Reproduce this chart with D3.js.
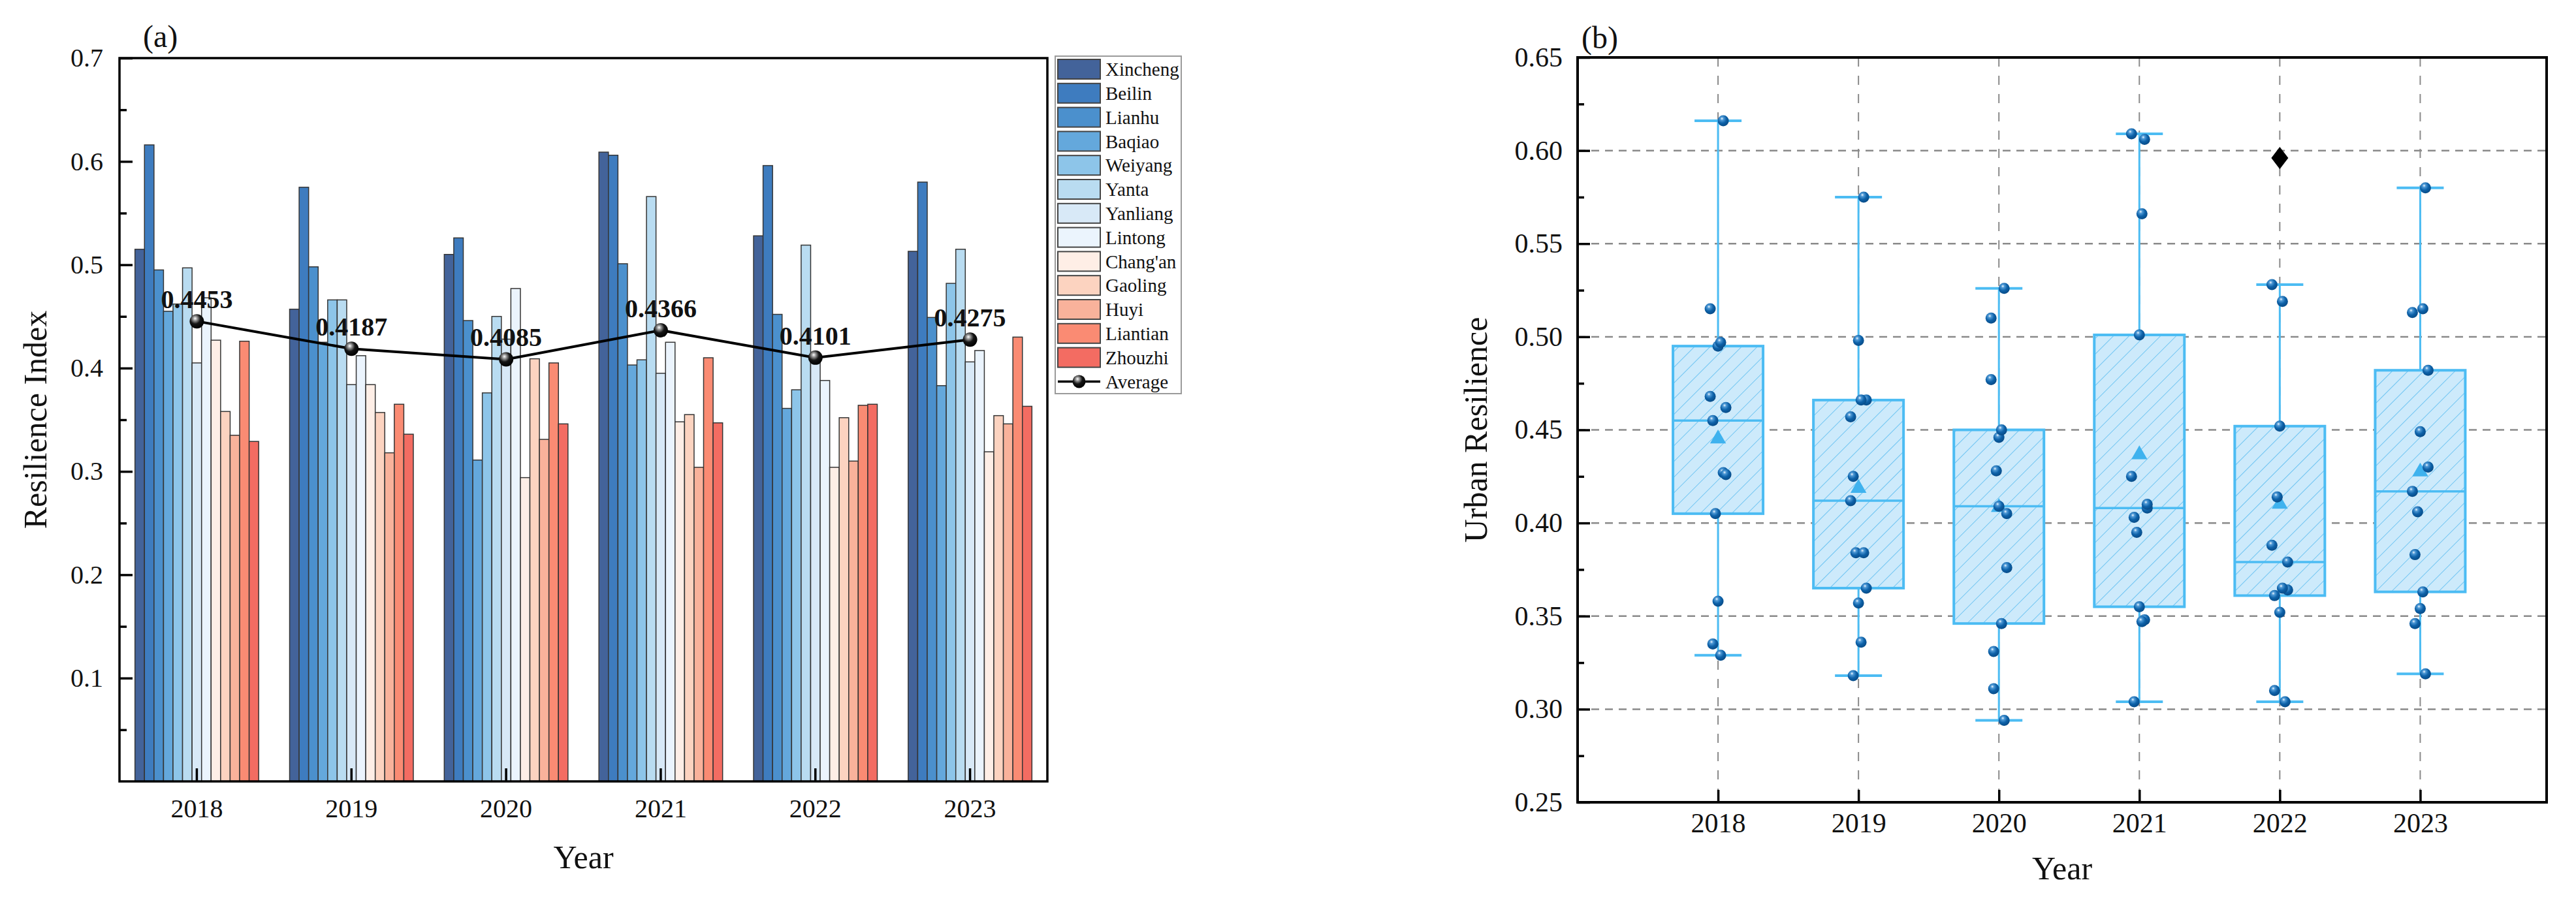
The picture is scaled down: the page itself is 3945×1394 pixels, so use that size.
<!DOCTYPE html>
<html>
<head>
<meta charset="utf-8">
<script src="https://cdn.jsdelivr.net/npm/d3@7/dist/d3.min.js"></script>
<style>
body { margin: 0; background: #fff; }
svg { display: block; }
text { font-family: 'Liberation Serif', 'Times New Roman', serif; fill: #111; }
</style>
</head>
<body>
<svg id="chart" width="3945" height="1394"></svg>
<script>

// years on the x axis
var years = ["2018", "2019", "2020", "2021", "2022", "2023"];

// districts, in legend order
var districts = ["Xincheng", "Beilin", "Lianhu", "Baqiao", "Weiyang", "Yanta", "Yanliang",
  "Lintong", "Chang'an", "Gaoling", "Huyi", "Liantian", "Zhouzhi"];

// resilience index per district, 2018..2023
var xincheng = [0.515, 0.457, 0.510, 0.609, 0.528, 0.513];
var beilin   = [0.616, 0.575, 0.526, 0.606, 0.596, 0.580];
var lianhu   = [0.495, 0.498, 0.446, 0.501, 0.452, 0.449];
var baqiao   = [0.455, 0.425, 0.311, 0.403, 0.361, 0.383];
var weiyang  = [0.462, 0.466, 0.376, 0.408, 0.379, 0.482];
var yanta    = [0.497, 0.466, 0.450, 0.566, 0.519, 0.515];
var yanliang = [0.405, 0.384, 0.428, 0.395, 0.414, 0.406];
var lintong  = [0.468, 0.412, 0.477, 0.425, 0.388, 0.417];
var changan  = [0.427, 0.384, 0.294, 0.348, 0.304, 0.319];
var gaoling  = [0.358, 0.357, 0.409, 0.355, 0.352, 0.354];
var huyi     = [0.335, 0.318, 0.331, 0.304, 0.310, 0.346];
var liantian = [0.426, 0.365, 0.405, 0.410, 0.364, 0.430];
var zhouzhi  = [0.329, 0.336, 0.346, 0.347, 0.365, 0.363];

// yearly average shown on the line
var average = [0.4453, 0.4187, 0.4085, 0.4366, 0.4101, 0.4275];

// axis ticks
var ticksA = [0.1, 0.2, 0.3, 0.4, 0.5, 0.6, 0.7];
var minorA = [0.05, 0.15, 0.25, 0.35, 0.45, 0.55, 0.65];
var ticksB = [0.25, 0.30, 0.35, 0.40, 0.45, 0.50, 0.55, 0.60, 0.65];
var minorB = [0.275, 0.325, 0.375, 0.425, 0.475, 0.525, 0.575, 0.625];

var colors = ["#43639a", "#3e7cbf", "#4b90cd", "#64a8dc", "#8dc5e9", "#b9dcf1", "#d8e9f7",
  "#ebf4fd", "#feeee6", "#fcd3c0", "#f9b29b", "#fa8b73", "#f36c62"];

var series = [xincheng, beilin, lianhu, baqiao, weiyang, yanta, yanliang,
  lintong, changan, gaoling, huyi, liantian, zhouzhi];

var table = years.map(function(yr, j) {
  return { year: yr, values: districts.map(function(d, i) { return { name: d, v: series[i][j], i: i }; }) };
});

var svg = d3.select("#chart");
var defs = svg.append("defs");

// sphere look for markers
var gBlack = defs.append("radialGradient").attr("id", "ballBlack")
  .attr("cx", "0.4").attr("cy", "0.35").attr("r", "0.65").attr("fx", "0.38").attr("fy", "0.3");
gBlack.append("stop").attr("offset", "0").attr("stop-color", "#ffffff");
gBlack.append("stop").attr("offset", "0.22").attr("stop-color", "#9a9a9a");
gBlack.append("stop").attr("offset", "0.55").attr("stop-color", "#151515");
gBlack.append("stop").attr("offset", "1").attr("stop-color", "#000");

var gBlue = defs.append("radialGradient").attr("id", "ballBlue")
  .attr("cx", "0.4").attr("cy", "0.35").attr("r", "0.65").attr("fx", "0.38").attr("fy", "0.3");
gBlue.append("stop").attr("offset", "0").attr("stop-color", "#f2f8ff");
gBlue.append("stop").attr("offset", "0.22").attr("stop-color", "#4f9ad6");
gBlue.append("stop").attr("offset", "0.6").attr("stop-color", "#0d61a8");
gBlue.append("stop").attr("offset", "1").attr("stop-color", "#084c88");

var hatch = defs.append("pattern").attr("id", "hatch")
  .attr("patternUnits", "userSpaceOnUse").attr("width", 17).attr("height", 17)
  .attr("patternTransform", "rotate(45)");
hatch.append("rect").attr("width", 17).attr("height", 17).attr("fill", "#cdeafb");
hatch.append("line").attr("x1", 0).attr("y1", 0).attr("x2", 0).attr("y2", 17)
  .attr("stroke", "#58bcf0").attr("stroke-width", 1.6);

// ---------------- panel (a) ----------------
var A = { left: 183, right: 1604, top: 89, bottom: 1197 };

var yA = d3.scaleLinear().domain([0, 0.7]).range([A.bottom, A.top]);
var x0 = d3.scaleBand().domain(years).range([A.left, A.right]).paddingInner(0.2).paddingOuter(0.1);
var x1 = d3.scaleBand().domain(districts).range([0, x0.bandwidth()]);
var colorScale = d3.scaleOrdinal().domain(districts).range(colors);

var pa = svg.append("g");

pa.selectAll(".grp")
  .data(table)
  .enter()
  .append("g")
  .attr("class", "grp")
  .attr("transform", function(d) { return "translate(" + x0(d.year) + ",0)"; })
  .selectAll("rect")
  .data(function(d) { return d.values; })
  .enter()
  .append("rect")
  .attr("x", function(d) { return x1(d.name); })
  .attr("width", x1.bandwidth())
  .attr("y", function(d) { return yA(d.v); })
  .attr("height", function(d) { return A.bottom - yA(d.v); })
  .attr("fill", function(d) { return colorScale(d.name); })
  .attr("stroke", "#353535")
  .attr("stroke-width", 1.5);

// average line
var avgPts = years.map(function(yr, j) { return { year: yr, v: average[j] }; });
var line = d3.line()
  .x(function(d) { return x0(d.year) + x0.bandwidth() / 2; })
  .y(function(d) { return yA(d.v); });

pa.append("path")
  .datum(avgPts)
  .attr("d", line)
  .attr("fill", "none")
  .attr("stroke", "#000")
  .attr("stroke-width", 4);

pa.selectAll(".avg")
  .data(avgPts)
  .enter()
  .append("circle")
  .attr("class", "avg")
  .attr("cx", function(d) { return x0(d.year) + x0.bandwidth() / 2; })
  .attr("cy", function(d) { return yA(d.v); })
  .attr("r", 11)
  .attr("fill", "url(#ballBlack)");

pa.selectAll(".avgLbl")
  .data(avgPts)
  .enter()
  .append("text")
  .attr("class", "avgLbl")
  .attr("x", function(d) { return x0(d.year) + x0.bandwidth() / 2; })
  .attr("y", function(d) { return yA(d.v) - 20; })
  .attr("text-anchor", "middle")
  .attr("font-size", 40)
  .attr("font-weight", "bold")
  .text(function(d) { return d3.format(".4f")(d.v); });

// axes (ticks point inward)
var axA = pa.append("g")
  .attr("transform", "translate(" + A.left + ",0)")
  .call(d3.axisLeft(yA).tickValues(ticksA).tickFormat(d3.format(".1f"))
    .tickSizeInner(-20).tickSizeOuter(0).tickPadding(25));
axA.selectAll("text").attr("font-size", 40).style("font-family", "'Liberation Serif', serif").attr("fill", "#111");
axA.select(".domain").remove();
axA.selectAll("line").attr("stroke", "#000").attr("stroke-width", 3.5);

var axAm = pa.append("g")
  .attr("transform", "translate(" + A.left + ",0)")
  .call(d3.axisLeft(yA).tickValues(minorA).tickFormat("").tickSizeInner(-11).tickSizeOuter(0));
axAm.select(".domain").remove();
axAm.selectAll("line").attr("stroke", "#000").attr("stroke-width", 3.5);

var axAx = pa.append("g")
  .attr("transform", "translate(0," + A.bottom + ")")
  .call(d3.axisBottom(x0).tickSizeInner(-20).tickSizeOuter(0).tickPadding(27));
axAx.selectAll("text").attr("font-size", 40).style("font-family", "'Liberation Serif', serif").attr("fill", "#111");
axAx.select(".domain").remove();
axAx.selectAll("line").attr("stroke", "#000").attr("stroke-width", 3.5);

pa.append("rect")
  .attr("x", A.left).attr("y", A.top)
  .attr("width", A.right - A.left).attr("height", A.bottom - A.top)
  .attr("fill", "none").attr("stroke", "#000").attr("stroke-width", 3.5);

pa.append("text")
  .attr("transform", "translate(71," + (A.top + A.bottom) / 2 + ") rotate(-90)")
  .attr("text-anchor", "middle")
  .attr("font-size", 50)
  .text("Resilience Index");

pa.append("text")
  .attr("x", (A.left + A.right) / 2).attr("y", 1330)
  .attr("text-anchor", "middle")
  .attr("font-size", 50)
  .text("Year");

pa.append("text")
  .attr("x", 219).attr("y", 72)
  .attr("font-size", 48)
  .text("(a)");

// legend
var leg = svg.append("g").attr("transform", "translate(1616,86)");
leg.append("rect")
  .attr("width", 193).attr("height", 517)
  .attr("fill", "#fff").attr("stroke", "#9a9a9a").attr("stroke-width", 2);

var rowH = 36.8;
var items = leg.selectAll(".item")
  .data(districts)
  .enter()
  .append("g")
  .attr("class", "item")
  .attr("transform", function(d, i) { return "translate(4," + (5 + i * rowH) + ")"; });
items.append("rect")
  .attr("width", 65).attr("height", 30)
  .attr("fill", function(d) { return colorScale(d); })
  .attr("stroke", "#444").attr("stroke-width", 2);
items.append("text")
  .attr("x", 73).attr("y", 15).attr("dy", "0.35em")
  .attr("font-size", 29)
  .text(function(d) { return d; });

var avgItem = leg.append("g")
  .attr("transform", "translate(4," + (5 + districts.length * rowH) + ")");
avgItem.append("line")
  .attr("x1", 0).attr("x2", 65).attr("y1", 15).attr("y2", 15)
  .attr("stroke", "#000").attr("stroke-width", 3.5);
avgItem.append("circle")
  .attr("cx", 32.5).attr("cy", 15).attr("r", 10)
  .attr("fill", "url(#ballBlack)");
avgItem.append("text")
  .attr("x", 73).attr("y", 15).attr("dy", "0.35em")
  .attr("font-size", 29)
  .text("Average");

// ---------------- panel (b) ----------------
var B = { left: 2416, right: 3900, top: 88, bottom: 1229 };

var xB = d3.scaleLinear().domain([2017, 2023.9]).range([B.left, B.right]);
var yB = d3.scaleLinear().domain([0.25, 0.65]).range([B.bottom, B.top]);

var pb = svg.append("g");

// dashed grid
pb.selectAll(".hgrid")
  .data(ticksB.slice(1, -1))
  .enter()
  .append("line")
  .attr("x1", B.left).attr("x2", B.right)
  .attr("y1", function(d) { return yB(d); }).attr("y2", function(d) { return yB(d); })
  .attr("stroke", "#8a8a8a").attr("stroke-width", 2.5).attr("stroke-dasharray", "12,9");

pb.selectAll(".vgrid")
  .data(years)
  .enter()
  .append("line")
  .attr("x1", function(d) { return xB(+d); }).attr("x2", function(d) { return xB(+d); })
  .attr("y1", B.top).attr("y2", B.bottom)
  .attr("stroke", "#8a8a8a").attr("stroke-width", 2).attr("stroke-dasharray", "14,14");

var boxColor = "#4cbcf3";

var stats = table.map(function(t) {
  var vals = t.values.map(function(d) { return d.v; });
  var s = vals.slice().sort(d3.ascending);
  var q1 = d3.quantile(s, 0.25), med = d3.quantile(s, 0.5), q3 = d3.quantile(s, 0.75);
  var iqr = q3 - q1;
  var inside = s.filter(function(v) { return v >= q1 - 1.5 * iqr && v <= q3 + 1.5 * iqr; });
  return {
    year: +t.year, q1: q1, med: med, q3: q3,
    lo: d3.min(inside), hi: d3.max(inside), mean: d3.mean(vals),
    pts: t.values.filter(function(d) { return d.v >= q1 - 1.5 * iqr && d.v <= q3 + 1.5 * iqr; }),
    out: s.filter(function(v) { return v < q1 - 1.5 * iqr || v > q3 + 1.5 * iqr; })
  };
});

var boxW = 138, capW = 72;

var bx = pb.selectAll(".box")
  .data(stats)
  .enter()
  .append("g")
  .attr("class", "box");

// whiskers
bx.append("line")
  .attr("x1", function(d) { return xB(d.year); }).attr("x2", function(d) { return xB(d.year); })
  .attr("y1", function(d) { return yB(d.hi); }).attr("y2", function(d) { return yB(d.q3); })
  .attr("stroke", boxColor).attr("stroke-width", 3);
bx.append("line")
  .attr("x1", function(d) { return xB(d.year); }).attr("x2", function(d) { return xB(d.year); })
  .attr("y1", function(d) { return yB(d.q1); }).attr("y2", function(d) { return yB(d.lo); })
  .attr("stroke", boxColor).attr("stroke-width", 3);
bx.append("line")
  .attr("x1", function(d) { return xB(d.year) - capW / 2; }).attr("x2", function(d) { return xB(d.year) + capW / 2; })
  .attr("y1", function(d) { return yB(d.hi); }).attr("y2", function(d) { return yB(d.hi); })
  .attr("stroke", boxColor).attr("stroke-width", 4);
bx.append("line")
  .attr("x1", function(d) { return xB(d.year) - capW / 2; }).attr("x2", function(d) { return xB(d.year) + capW / 2; })
  .attr("y1", function(d) { return yB(d.lo); }).attr("y2", function(d) { return yB(d.lo); })
  .attr("stroke", boxColor).attr("stroke-width", 4);

// box
bx.append("rect")
  .attr("x", function(d) { return xB(d.year) - boxW / 2; })
  .attr("width", boxW)
  .attr("y", function(d) { return yB(d.q3); })
  .attr("height", function(d) { return yB(d.q1) - yB(d.q3); })
  .attr("fill", "url(#hatch)")
  .attr("stroke", boxColor).attr("stroke-width", 4);

bx.append("line")
  .attr("x1", function(d) { return xB(d.year) - boxW / 2; }).attr("x2", function(d) { return xB(d.year) + boxW / 2; })
  .attr("y1", function(d) { return yB(d.med); }).attr("y2", function(d) { return yB(d.med); })
  .attr("stroke", boxColor).attr("stroke-width", 3.5);

// mean marker
bx.append("path")
  .attr("d", d3.symbol().type(d3.symbolTriangle).size(260))
  .attr("transform", function(d) { return "translate(" + xB(d.year) + "," + yB(d.mean) + ")"; })
  .attr("fill", "#3fb2ee");

// data points, small fixed spread
bx.selectAll(".pt")
  .data(function(d) { return d.pts.map(function(p) { return { year: d.year, v: p.v, i: p.i }; }); })
  .enter()
  .append("circle")
  .attr("class", "pt")
  .attr("cx", function(d) { return xB(d.year) + ((d.i * 5) % 7 - 3) * 4; })
  .attr("cy", function(d) { return yB(d.v); })
  .attr("r", 8.5)
  .attr("fill", "url(#ballBlue)");

// outliers
bx.selectAll(".out")
  .data(function(d) { return d.out.map(function(v) { return { year: d.year, v: v }; }); })
  .enter()
  .append("path")
  .attr("class", "out")
  .attr("d", "M0,-17 L13,0 L0,17 L-13,0 Z")
  .attr("transform", function(d) { return "translate(" + xB(d.year) + "," + yB(d.v) + ")"; })
  .attr("fill", "#000");

// axes
var axB = pb.append("g")
  .attr("transform", "translate(" + B.left + ",0)")
  .call(d3.axisLeft(yB).tickValues(ticksB).tickFormat(d3.format(".2f"))
    .tickSizeInner(-19).tickSizeOuter(0).tickPadding(23));
axB.selectAll("text").attr("font-size", 42).style("font-family", "'Liberation Serif', serif").attr("fill", "#111");
axB.select(".domain").remove();
axB.selectAll("line").attr("stroke", "#000").attr("stroke-width", 3.5);

var axBm = pb.append("g")
  .attr("transform", "translate(" + B.left + ",0)")
  .call(d3.axisLeft(yB).tickValues(minorB).tickFormat("").tickSizeInner(-10).tickSizeOuter(0));
axBm.select(".domain").remove();
axBm.selectAll("line").attr("stroke", "#000").attr("stroke-width", 3.5);

var axBx = pb.append("g")
  .attr("transform", "translate(0," + B.bottom + ")")
  .call(d3.axisBottom(xB).tickValues(years.map(Number)).tickFormat(d3.format("d"))
    .tickSizeInner(-19).tickSizeOuter(0).tickPadding(16));
axBx.selectAll("text").attr("font-size", 42).style("font-family", "'Liberation Serif', serif").attr("fill", "#111");
axBx.select(".domain").remove();
axBx.selectAll("line").attr("stroke", "#000").attr("stroke-width", 3.5);

pb.append("rect")
  .attr("x", B.left).attr("y", B.top)
  .attr("width", B.right - B.left).attr("height", B.bottom - B.top)
  .attr("fill", "none").attr("stroke", "#000").attr("stroke-width", 4);

pb.append("text")
  .attr("transform", "translate(2277," + (B.top + B.bottom) / 2 + ") rotate(-90)")
  .attr("text-anchor", "middle")
  .attr("font-size", 50)
  .text("Urban Resilience");

pb.append("text")
  .attr("x", (B.left + B.right) / 2).attr("y", 1347)
  .attr("text-anchor", "middle")
  .attr("font-size", 50)
  .text("Year");

pb.append("text")
  .attr("x", 2422).attr("y", 74)
  .attr("font-size", 48)
  .text("(b)");

</script>
</body>
</html>
